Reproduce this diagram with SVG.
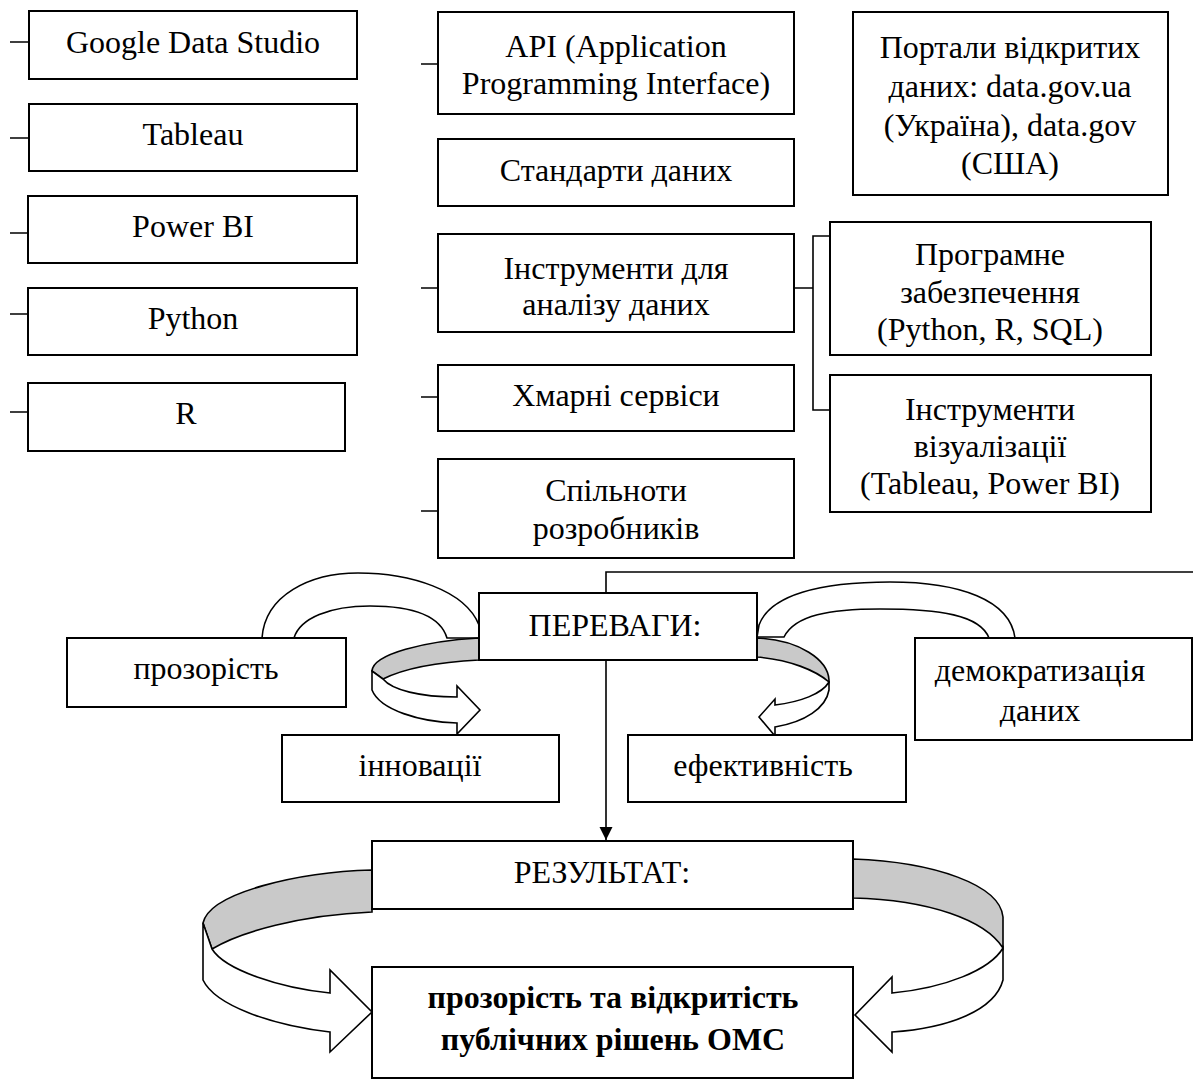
<svg xmlns="http://www.w3.org/2000/svg" width="1193" height="1082" viewBox="0 0 1193 1082">
<defs>
<style>
.box{fill:#fff;stroke:#000;stroke-width:2}
.t{font-family:"Liberation Serif","Times New Roman",serif;font-size:32px;fill:#000;text-anchor:middle}
.b{font-weight:bold}
.ln{fill:none;stroke:#000;stroke-width:1.6}
.rib{fill:#fff;stroke:#000;stroke-width:1.6;stroke-linejoin:miter}
.gr{fill:#c9c9c9;stroke:#000;stroke-width:1.6}
</style>
<marker id="ah" viewBox="0 0 10 10" refX="10" refY="5" markerWidth="13" markerHeight="15" markerUnits="userSpaceOnUse" orient="auto">
<path d="M0,0 L10,5 L0,10 Z" fill="#000"/>
</marker>
</defs>
<rect width="1193" height="1082" fill="#fff"/>

<g id="connectors">
<path class="ln" d="M10,42 H29 M10,138 H29 M10,233 H28 M10,314 H28 M10,412 H28"/>
<path class="ln" d="M421,64 H438 M421,288 H438 M421,397 H438 M421,511 H438"/>
<path class="ln" d="M794,288 H813 M830,236 H813 V410 H830"/>
<path class="ln" d="M1193,572 H606 V840" marker-end="url(#ah)"/>
<path class="rib" d="M262,638 C265,595 310,573 358,573 C410,573 465,590 479,625 L479,638 L447,638 C440,615 410,606 370,606 C330,606 300,618 294,638 Z"/>
<path class="rib" d="M759,625 C770,595 820,582 890,582 C960,582 1010,600 1015,638 L989,638 C980,615 940,609 880,609 C830,609 795,615 784,637 L757,637 Z"/>
<path class="gr" d="M479,638 C425,641 373,654 372,671 L383,679 C405,668 440,662 479,660 Z"/>
<path class="rib" d="M372,671 L372,690 C380,710 420,722 457,723 L457,734 L480,710 L457,686 L457,697 C420,697 392,690 383,679 Z"/>
<path class="gr" d="M757,638 C800,640 828,660 829,680 L829,682 C815,670 790,660 757,657 Z"/>
<path class="rib" d="M829,681 L829,690 C826,708 805,722 775,727 L775,736 L759,717 L775,699 L775,705 C800,702 822,694 829,682 Z"/>
<path class="gr" d="M372,870 C300,872 210,892 203,923 L212,949 C240,932 300,915 372,912 Z"/>
<path class="rib" d="M203,923 L203,980 C215,1005 270,1025 330,1032 L330,1052 L372,1012 L330,970 L330,993 C280,988 225,970 212,949 Z"/>
<path class="gr" d="M853,859 C935,862 1000,885 1003,917 L1003,948 C985,920 930,900 853,898 Z"/>
<path class="rib" d="M1003,948 L1003,980 C995,1010 950,1028 892,1032 L892,1052 L855,1015 L892,977 L892,993 C945,988 990,970 1003,948 Z"/>
</g>

<g id="n-gds"><rect class="box" x="29" y="11" width="328" height="68"/><text class="t" x="193" y="53">Google Data Studio</text></g>
<g id="n-tableau"><rect class="box" x="29" y="104" width="328" height="67"/><text class="t" x="193" y="145">Tableau</text></g>
<g id="n-powerbi"><rect class="box" x="28" y="196" width="329" height="67"/><text class="t" x="193" y="237">Power BI</text></g>
<g id="n-python"><rect class="box" x="28" y="288" width="329" height="67"/><text class="t" x="193" y="329">Python</text></g>
<g id="n-r"><rect class="box" x="28" y="383" width="317" height="68"/><text class="t" x="186" y="424">R</text></g>

<g id="n-api"><rect class="box" x="438" y="12" width="356" height="102"/><text class="t" x="616" y="57">API (Application</text><text class="t" x="616" y="94">Programming Interface)</text></g>
<g id="n-std"><rect class="box" x="438" y="139" width="356" height="67"/><text class="t" x="616" y="181">Стандарти даних</text></g>
<g id="n-tools"><rect class="box" x="438" y="234" width="356" height="98"/><text class="t" x="616" y="279">Інструменти для</text><text class="t" x="616" y="315">аналізу даних</text></g>
<g id="n-cloud"><rect class="box" x="438" y="365" width="356" height="66"/><text class="t" x="616" y="406">Хмарні сервіси</text></g>
<g id="n-dev"><rect class="box" x="438" y="459" width="356" height="99"/><text class="t" x="616" y="501">Спільноти</text><text class="t" x="616" y="539">розробників</text></g>

<g id="n-portals"><rect class="box" x="853" y="12" width="315" height="183"/><text class="t" x="1010" y="58">Портали відкритих</text><text class="t" x="1010" y="97">даних: data.gov.ua</text><text class="t" x="1010" y="136">(Україна), data.gov</text><text class="t" x="1010" y="174">(США)</text></g>
<g id="n-soft"><rect class="box" x="830" y="222" width="321" height="133"/><text class="t" x="990" y="265">Програмне</text><text class="t" x="990" y="303">забезпечення</text><text class="t" x="990" y="340">(Python, R, SQL)</text></g>
<g id="n-viz"><rect class="box" x="830" y="375" width="321" height="137"/><text class="t" x="990" y="420">Інструменти</text><text class="t" x="990" y="457">візуалізації</text><text class="t" x="990" y="494">(Tableau, Power BI)</text></g>

<g id="n-adv"><rect class="box" x="479" y="593" width="278" height="67"/><text class="t" x="615" y="636">ПЕРЕВАГИ:</text></g>
<g id="n-transp"><rect class="box" x="67" y="638" width="279" height="69"/><text class="t" x="206" y="679">прозорість</text></g>
<g id="n-demo"><rect class="box" x="915" y="638" width="277" height="102"/><text class="t" x="1040" y="681">демократизація</text><text class="t" x="1040" y="721">даних</text></g>
<g id="n-innov"><rect class="box" x="282" y="735" width="277" height="67"/><text class="t" x="420" y="776">інновації</text></g>
<g id="n-eff"><rect class="box" x="628" y="735" width="278" height="67"/><text class="t" x="763" y="776">ефективність</text></g>
<g id="n-result"><rect class="box" x="372" y="841" width="481" height="68"/><text class="t" x="602" y="883">РЕЗУЛЬТАТ:</text></g>
<g id="n-final"><rect class="box" x="372" y="967" width="481" height="111"/><text class="t b" x="613" y="1008">прозорість та відкритість</text><text class="t b" x="613" y="1050">публічних рішень ОМС</text></g>
</svg>
